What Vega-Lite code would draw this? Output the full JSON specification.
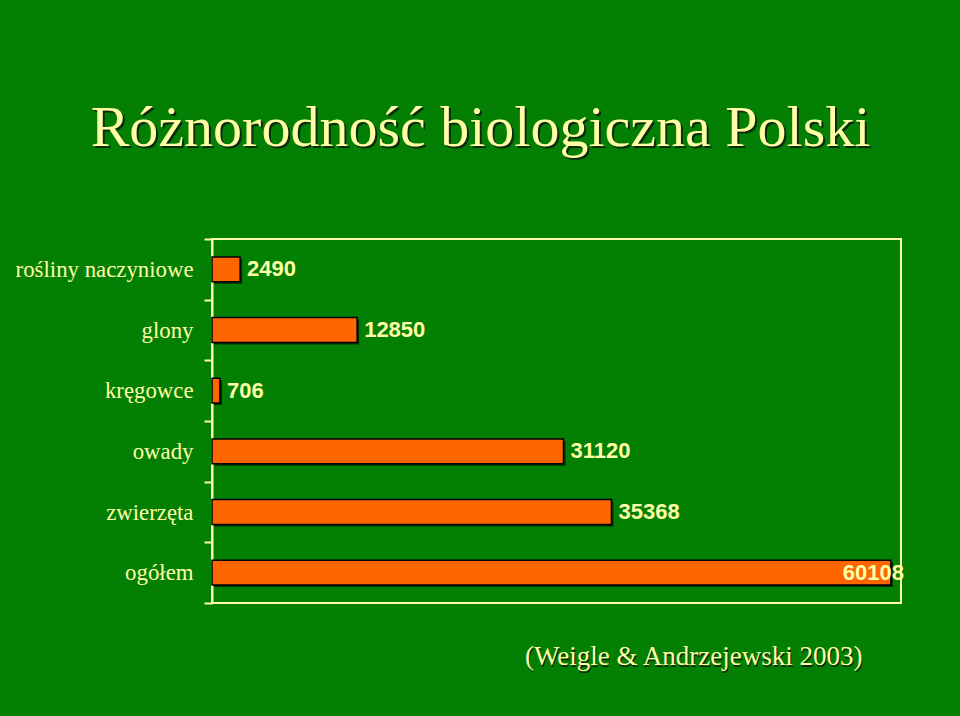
{
  "$schema": "https://vega.github.io/schema/vega-lite/v6.json",
  "autosize": {"type": "none"},
  "width": 689,
  "height": 364,
  "padding": {"left": 212, "top": 239, "right": 59, "bottom": 113},
  "background": "#037f03",
  "title": {
    "text": "Różnorodność biologiczna Polski",
    "font": "Liberation Serif",
    "fontSize": 58,
    "fontWeight": "normal",
    "color": "#ffffa6",
    "anchor": "middle",
    "frame": "group",
    "baseline": "alphabetic",
    "offset": -103,
    "dx": -76
  },
  "data": {
    "values": [
      {"grupa": "rośliny naczyniowe", "liczba": 2490},
      {"grupa": "glony", "liczba": 12850},
      {"grupa": "kręgowce", "liczba": 706},
      {"grupa": "owady", "liczba": 31120},
      {"grupa": "zwierzęta", "liczba": 35368},
      {"grupa": "ogółem", "liczba": 60108}
    ]
  },
  "layer": [
    {
      "mark": {"type": "bar", "color": "#000000", "xOffset": 2, "yOffset": 2, "opacity": 0.6, "height": {"band": 0.41}},
      "encoding": {
        "y": {
          "field": "grupa",
          "type": "nominal",
          "sort": null,
          "scale": {"paddingInner": 0, "paddingOuter": 0},
          "axis": {
            "orient": "right",
            "domain": false,
            "ticks": false,
            "labels": false,
            "grid": false,
            "title": "(Weigle & Andrzejewski 2003)",
            "titleFont": "Liberation Serif",
            "titleFontSize": 27,
            "titleFontWeight": "normal",
            "titleColor": "#ffffa6",
            "titleAngle": 0,
            "titleAlign": "right",
            "titleBaseline": "alphabetic",
            "titleX": -39,
            "titleY": 425
          }
        },
        "x": {
          "field": "liczba",
          "type": "quantitative",
          "scale": {"domain": [0, 61000], "nice": false},
          "axis": {
            "orient": "top",
            "labels": false,
            "ticks": false,
            "domain": false,
            "grid": false,
            "title": "Różnorodność biologiczna Polski",
            "titleFont": "Liberation Serif",
            "titleFontSize": 58,
            "titleFontWeight": "normal",
            "titleColor": "#0f2a0f",
            "titleAlign": "center",
            "titleBaseline": "alphabetic",
            "titleX": 270,
            "titleY": -92
          }
        }
      }
    },
    {
      "mark": {"type": "bar", "fill": "#ff6600", "stroke": "#000000", "strokeWidth": 1.5, "height": {"band": 0.41}},
      "encoding": {
        "y": {
          "field": "grupa",
          "type": "nominal",
          "sort": null,
          "axis": {
            "orient": "left",
            "title": null,
            "domainColor": "#ffffa6",
            "domainWidth": 2,
            "tickColor": "#ffffa6",
            "tickWidth": 2,
            "tickSize": 8,
            "tickBand": "extent",
            "labelFont": "Liberation Serif",
            "labelFontSize": 22.8,
            "labelColor": "#ffffa6",
            "labelPadding": 11,
            "labelLimit": 300
          }
        },
        "x": {
          "field": "liczba",
          "type": "quantitative",
          "axis": {
            "orient": "bottom",
            "labels": false,
            "ticks": false,
            "domain": false,
            "grid": false,
            "title": "(Weigle & Andrzejewski 2003)",
            "titleFont": "Liberation Serif",
            "titleFontSize": 27,
            "titleFontWeight": "normal",
            "titleColor": "#0f2a0f",
            "titleAlign": "right",
            "titleAnchor": "end",
            "titleBaseline": "alphabetic",
            "titleX": 651,
            "titleY": 63
          }
        }
      }
    },
    {
      "transform": [{"filter": "datum.liczba < 50000"}],
      "mark": {"type": "text", "align": "left", "baseline": "middle", "dx": 7, "font": "Liberation Sans", "fontWeight": "bold", "fontSize": 22, "color": "#ffffa6"},
      "encoding": {
        "y": {"field": "grupa", "type": "nominal", "sort": null, "axis": null},
        "x": {"field": "liczba", "type": "quantitative", "axis": null},
        "text": {"field": "liczba", "type": "quantitative", "format": "d"}
      }
    },
    {
      "transform": [{"filter": "datum.liczba >= 50000"}],
      "mark": {"type": "text", "align": "right", "baseline": "middle", "dx": 13, "font": "Liberation Sans", "fontWeight": "bold", "fontSize": 22, "color": "#ffffa6"},
      "encoding": {
        "y": {"field": "grupa", "type": "nominal", "sort": null, "axis": null},
        "x": {"field": "liczba", "type": "quantitative", "axis": null},
        "text": {"field": "liczba", "type": "quantitative", "format": "d"}
      }
    }
  ],
  "resolve": {"axis": {"x": "independent", "y": "independent"}},
  "config": {
    "view": {"stroke": "#ffffa6", "strokeWidth": 2}
  }
}
